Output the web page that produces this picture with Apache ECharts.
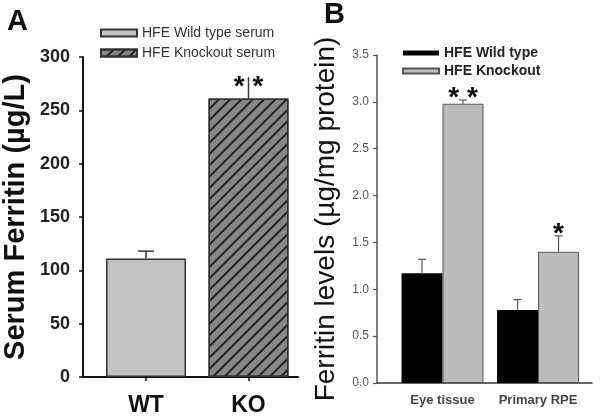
<!DOCTYPE html>
<html>
<head>
<meta charset="utf-8">
<script src="https://cdn.jsdelivr.net/npm/echarts@6/dist/echarts.min.js"></script>
<style>
html,body{margin:0;padding:0;background:#fff;}
#chart{width:601px;height:417px;}
</style>
</head>
<body>
<div id="chart"></div>
<script>
// ---- Data ----
const categoriesA = ['WT', 'KO'];
const serumWT = [111];          // µg/L
const serumWTErr = [7];
const serumKO = [261];
const serumKOErr = [20];
const sigA = ['', '* *'];

const categoriesB = ['Eye tissue', 'Primary RPE'];
const tissueWT = [1.17, 0.78];  // µg/mg protein
const tissueWTErr = [0.15, 0.11];
const tissueKO = [2.98, 1.40];
const tissueKOErr = [0.04, 0.17];
const sigB = ['* *', '*'];

const ticksA = [0, 50, 100, 150, 200, 250, 300];
const ticksB = [0.0, 0.5, 1.0, 1.5, 2.0, 2.5, 3.0, 3.5];

const FONT = "'Liberation Sans', Arial, sans-serif";

function errSeries(name, xIdx, yIdx, xs, vals, errs, sig, opts) {
  return {
    name: name + ' err',
    type: 'custom',
    xAxisIndex: xIdx, yAxisIndex: yIdx,
    z: 5,
    silent: true,
    data: xs.map((x, i) => [x, vals[i], errs[i]]),
    renderItem: function (params, api) {
      const x = api.value(0), y = api.value(1), e = api.value(2);
      const p0 = api.coord([x, y]);
      const p1 = api.coord([x, y + e]);
      const cx = p0[0] + opts.dx;
      const children = [
        {type: 'line', shape: {x1: cx, y1: p0[1], x2: cx, y2: p1[1]},
         style: {stroke: opts.color, lineWidth: opts.lw}},
        {type: 'line', shape: {x1: cx - opts.cap, y1: p1[1], x2: cx + opts.cap, y2: p1[1]},
         style: {stroke: opts.color, lineWidth: opts.lw}}
      ];
      const s = sig[params.dataIndex];
      if (s) {
        children.push({type: 'text', x: cx, y: p1[1] + opts.sdy,
          style: {text: s, font: 'bold 28px ' + FONT, fill: '#111',
                  align: 'center', verticalAlign: 'middle'}});
      }
      return {type: 'group', children: children};
    }
  };
}

const xsA = categoriesA.map((c, i) => i);
const xsB = categoriesB.map((c, i) => i);

const chart = echarts.init(document.getElementById('chart'), null, {renderer: 'canvas'});

const option = {
  animation: false,
  backgroundColor: '#fff',
  textStyle: {fontFamily: FONT},
  title: [
    {text: 'A', left: 2, top: 2, textStyle: {fontSize: 29, fontWeight: 'bold', color: '#111', fontFamily: FONT}},
    {text: 'B', left: 319, top: -5, textStyle: {fontSize: 29, fontWeight: 'bold', color: '#111', fontFamily: FONT}}
  ],
  legend: [
    {
      data: ['HFE Wild type serum', 'HFE Knockout serum'],
      orient: 'vertical', left: 95, top: 21,
      itemWidth: 36, itemHeight: 7, itemGap: 6,
      icon: 'rect',
      textStyle: {fontSize: 14, color: '#333', fontFamily: FONT}
    },
    {
      data: ['HFE Wild type', 'HFE Knockout'],
      orient: 'vertical', left: 397, top: 41,
      itemWidth: 36, itemHeight: 5, itemGap: 4,
      icon: 'rect',
      textStyle: {fontSize: 14, color: '#222', fontWeight: 'bold', fontFamily: FONT}
    }
  ],
  grid: [
    {left: 83, top: 57, width: 215, height: 322},
    {left: 377, top: 55, width: 215, height: 328}
  ],
  xAxis: [
    {
      gridIndex: 0, type: 'value', min: -0.615, max: 1.483,
      splitLine: {show: false},
      axisLine: {onZero: false, lineStyle: {color: '#111', width: 2}},
      axisTick: {show: true, customValues: xsA, length: 4, lineStyle: {color: '#111', width: 1.5}},
      axisLabel: {customValues: xsA, margin: 17, fontSize: 23, fontWeight: 'bold', color: '#111',
                  fontFamily: FONT, formatter: v => categoriesA[Math.round(v)]}
    },
    {
      gridIndex: 1, type: 'value', min: -0.686, max: 1.565,
      splitLine: {show: false},
      axisLine: {onZero: false, lineStyle: {color: '#333', width: 1.5}},
      axisTick: {show: false},
      axisLabel: {customValues: xsB, margin: 11, fontSize: 13, fontWeight: 'bold', color: '#444',
                  fontFamily: FONT, formatter: v => categoriesB[Math.round(v)]}
    }
  ],
  yAxis: [
    {
      gridIndex: 0, type: 'value', min: 0, max: 300, interval: 50,
      name: 'Serum Ferritin (µg/L)', nameLocation: 'middle', nameGap: 53,
      nameTextStyle: {fontSize: 29, fontWeight: 'bold', color: '#111', fontFamily: FONT},
      splitLine: {show: false},
      axisLine: {show: true, onZero: false, lineStyle: {color: '#111', width: 2}},
      axisTick: {show: true, length: 4, lineStyle: {color: '#111', width: 1.5}},
      axisLabel: {margin: 13, fontSize: 18, fontWeight: 'bold', color: '#222', fontFamily: FONT,
                  customValues: ticksA}
    },
    {
      gridIndex: 1, type: 'value', min: 0, max: 3.5, interval: 0.5,
      name: 'Ferritin levels (µg/mg protein)', nameLocation: 'middle', nameGap: 37,
      nameTextStyle: {fontSize: 28, fontWeight: 'normal', color: '#111', fontFamily: FONT},
      splitLine: {show: false},
      axisLine: {show: true, onZero: false, lineStyle: {color: '#555', width: 1.5}},
      axisTick: {show: true, length: 4, lineStyle: {color: '#555', width: 1.2}},
      axisLabel: {margin: 8, fontSize: 12, color: '#555', fontFamily: FONT,
                  formatter: v => v.toFixed(1), customValues: ticksB}
    }
  ],
  series: [
    {
      name: 'HFE Wild type serum', type: 'bar', xAxisIndex: 0, yAxisIndex: 0,
      barWidth: 80, barGap: '-100%',
      data: serumWT.map((v, i) => [xsA[i], v]),
      itemStyle: {color: '#c2c2c2', borderColor: '#333', borderWidth: 1.5}
    },
    {
      name: 'HFE Knockout serum', type: 'bar', xAxisIndex: 0, yAxisIndex: 0,
      barWidth: 80, barGap: '-100%',
      data: serumKO.map((v, i) => [xsA[i + 1], v]),
      itemStyle: {
        color: '#878787', borderColor: '#333', borderWidth: 1.5,
        decal: {symbol: 'rect', symbolSize: 1, color: '#222',
                dashArrayX: [1, 0], dashArrayY: [1.2, 5.5], rotation: -Math.PI / 4}
      }
    },
    errSeries('wtA', 0, 0, [xsA[0]], serumWT, serumWTErr, [sigA[0]], {dx: 0, cap: 8, color: '#333', lw: 1.5, sdy: 10}),
    errSeries('koA', 0, 0, [xsA[1]], serumKO, serumKOErr, [sigA[1]], {dx: 0, cap: 0, color: '#333', lw: 1.5, sdy: 10}),
    {
      name: 'HFE Wild type', type: 'bar', xAxisIndex: 1, yAxisIndex: 1,
      barWidth: 41, barGap: '0%',
      data: tissueWT.map((v, i) => [xsB[i], v]),
      itemStyle: {color: '#000', borderColor: '#000', borderWidth: 0}
    },
    {
      name: 'HFE Knockout', type: 'bar', xAxisIndex: 1, yAxisIndex: 1,
      barWidth: 41, barGap: '0%',
      data: tissueKO.map((v, i) => [xsB[i], v]),
      itemStyle: {color: '#bcbcbc', borderColor: '#555', borderWidth: 1}
    },
    errSeries('wtB', 1, 1, xsB, tissueWT, tissueWTErr, ['', ''], {dx: -20.5, cap: 4, color: '#555', lw: 1.2, sdy: 0}),
    errSeries('koB', 1, 1, xsB, tissueKO, tissueKOErr, sigB, {dx: 20.5, cap: 4, color: '#555', lw: 1.2, sdy: -2})
  ]
};
chart.setOption(option);
</script>
</body>
</html>
